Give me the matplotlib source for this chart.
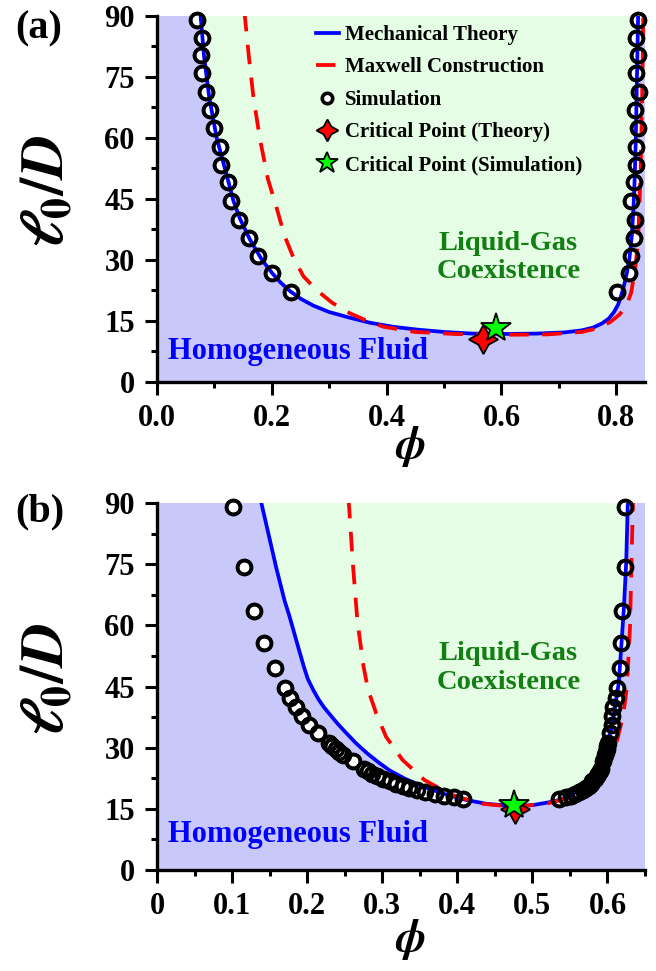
import numpy as np
import matplotlib
matplotlib.use("Agg")
import matplotlib.pyplot as plt
from matplotlib.ticker import MultipleLocator, FormatStrFormatter

plt.rcParams['font.family'] = ['Liberation Serif', 'DejaVu Serif']
plt.rcParams['font.weight'] = 'bold'
plt.rcParams['mathtext.fontset'] = 'stix'

# ---------------- panel (a) data ----------------
a_theory_phi = [0.075, 0.076, 0.082, 0.091, 0.104, 0.123, 0.133, 0.145, 0.162, 0.183, 0.201,
                0.215, 0.233, 0.250, 0.272, 0.300, 0.336, 0.370, 0.410, 0.452, 0.500, 0.550,
                0.600, 0.660, 0.710, 0.740, 0.760, 0.775, 0.787, 0.796, 0.803, 0.808, 0.813,
                0.818, 0.823, 0.827, 0.830, 0.832, 0.834, 0.836, 0.838, 0.838]
a_theory_l = [91, 90, 80, 70, 60, 50, 44.6, 40, 35, 30, 26.7,
              24.5, 22.2, 20.5, 18.8, 17.2, 15.8, 14.6, 13.6, 12.9, 12.3, 11.9,
              11.8, 11.9, 12.2, 12.7, 13.4, 14.4, 15.6, 17.2, 19.0, 21.0, 23.5,
              26.5, 30.5, 36, 43, 50, 60, 75, 90, 91]
a_maxwell_phi = [0.152, 0.153, 0.160, 0.168, 0.179, 0.193, 0.208, 0.222, 0.237, 0.255, 0.278,
                 0.305, 0.336, 0.365, 0.394, 0.45, 0.52, 0.60, 0.68, 0.74, 0.77, 0.79, 0.805,
                 0.817, 0.826, 0.833, 0.838, 0.842, 0.845, 0.847]
a_maxwell_l = [91, 90, 80, 70, 60, 50, 43, 36, 30.8, 26, 22.6,
               19.5, 16.9, 15.1, 13.6, 12.3, 11.8, 11.6, 11.7, 12.3, 13.3, 14.8, 16.5,
               18.5, 22, 28, 35, 50, 70, 91]
a_sim_l = [89.0, 84.5, 80.4, 75.9, 71.4, 66.9, 62.4, 57.9, 53.4, 49.3, 44.6,
           39.8, 35.3, 31.0, 26.7, 22.2]
a_sim_phi_left = [0.069, 0.079, 0.076, 0.079, 0.085, 0.092, 0.099, 0.110, 0.111, 0.124, 0.129,
                  0.143, 0.161, 0.176, 0.201, 0.233]
a_sim_phi_right = [0.837, 0.834, 0.837, 0.834, 0.839, 0.833, 0.837, 0.834, 0.834, 0.831, 0.825,
                   0.833, 0.830, 0.826, 0.822, 0.802]
a_crit_theory = (0.567, 10.5)
a_crit_sim = (0.590, 13.2)

# ---------------- panel (b) data ----------------
b_theory_phi = [0.137, 0.139, 0.149, 0.159, 0.170, 0.176, 0.181, 0.186, 0.191, 0.196, 0.201,
                0.208, 0.215, 0.222, 0.230, 0.240, 0.250, 0.265, 0.280, 0.295, 0.310, 0.330,
                0.354, 0.380, 0.411, 0.440, 0.475, 0.500, 0.522, 0.537, 0.548, 0.562, 0.578,
                0.593, 0.606, 0.615, 0.619, 0.622, 0.625, 0.627, 0.628]
b_theory_l = [91, 90, 82, 74, 66, 62.5, 59.3, 56, 52.8, 49.6, 46.8,
              44.2, 41.9, 40.0, 38.2, 36.0, 34.0, 31.1, 28.6, 26.4, 24.4, 22.4,
              20.5, 18.8, 17.2, 16.2, 15.7, 15.9, 16.6, 17.2, 18.0, 19.6, 22.5,
              27.0, 35.1, 45.8, 56.4, 64.6, 75.6, 89.5, 91]
b_maxwell_phi = [0.255, 0.256, 0.261, 0.267, 0.275, 0.281, 0.292, 0.305, 0.327, 0.356, 0.39,
                 0.43, 0.475, 0.52, 0.55, 0.575, 0.598, 0.613, 0.621, 0.626, 0.630, 0.632, 0.634]
b_maxwell_l = [91, 88.7, 74.8, 60.9, 50, 44.3, 38.4, 32.7, 27.0, 22.1, 18.6,
               16.3, 15.5, 16.3, 17.8, 20.5, 25, 31.9, 38, 45, 59.5, 75, 91]
b_sim_l = [88.9, 74.4, 63.5, 55.6, 49.5, 44.7, 42.3, 40.0, 37.8, 35.6, 33.5, 31.1,
           30.4, 29.7, 29.0, 28.3, 26.8, 24.8, 24.2, 23.6, 23.0, 22.4, 21.8, 21.2,
           20.6, 20.1, 19.6, 19.1, 18.6, 18.2, 17.8, 17.4]
b_sim_phi_left = [0.101, 0.116, 0.129, 0.143, 0.157, 0.170, 0.177, 0.185, 0.193, 0.203, 0.214, 0.229,
                  0.233, 0.238, 0.243, 0.248, 0.261, 0.276, 0.281, 0.287, 0.293, 0.301, 0.310, 0.318,
                  0.327, 0.336, 0.346, 0.357, 0.370, 0.382, 0.395, 0.407]
b_sim_phi_right = [0.624, 0.623, 0.619, 0.618, 0.617, 0.613, 0.611, 0.608, 0.606, 0.606, 0.604, 0.601,
                   0.600, 0.599, 0.598, 0.597, 0.594, 0.592, 0.590, 0.588, 0.586, 0.583, 0.580, 0.578,
                   0.575, 0.571, 0.567, 0.562, 0.557, 0.552, 0.545, 0.535]
b_crit_theory = (0.477, 15.0)
b_crit_sim = (0.475, 16.0)

yticks = [0, 15, 30, 45, 60, 75, 90]

PURPLE = '#c8c8fa'
GREEN_FILL = '#e4fde4'
TEXT_GREEN = '#127f12'


def panel(ax, th_phi, th_l, mx_phi, mx_l, sim_l, sim_left, sim_right, crit_t, crit_s,
          xmax, xmajor, xminor, xfmt, txt_xy, homo_xy, xlab_y):
    ax.set_facecolor(PURPLE)
    ax.fill(th_phi, th_l, color=GREEN_FILL, lw=0, zorder=0.5)

    sim_phi = list(sim_left) + list(sim_right)
    sim_ll = list(sim_l) + list(sim_l)
    ax.plot(sim_phi, sim_ll, 'o', ms=10, mfc='white', mec='black', mew=2.6,
            ls='none', zorder=2, clip_on=False, label='Simulation')
    ax.plot(th_phi, th_l, '-', color='#0000ff', lw=2.7, zorder=3, label='Mechanical Theory')
    ax.plot(mx_phi, mx_l, '--', color='#ff0000', lw=2.7, dashes=(5.2, 3.6), zorder=3,
            label='Maxwell Construction')
    ax.plot(sim_phi, sim_ll, 'o', ms=10, mfc='none', mec='black', mew=2.6,
            ls='none', zorder=4, clip_on=False)
    ax.plot(*crit_t, marker=(4, 1, 0), ms=21, mfc='#ff0000', mec='black', mew=1.3,
            ls='none', zorder=5, label='Critical Point (Theory)')
    ax.plot(*crit_s, marker='*', ms=22, mfc='#00ff00', mec='black', mew=1.3,
            ls='none', zorder=6, label='Critical Point (Simulation)')

    ax.set_xlim(0, xmax)
    ax.set_ylim(0, 90)
    ax.set_yticks(yticks)
    ax.yaxis.set_minor_locator(MultipleLocator(7.5))
    ax.xaxis.set_major_locator(MultipleLocator(xmajor))
    ax.xaxis.set_minor_locator(MultipleLocator(xminor))
    ax.xaxis.set_major_formatter(xfmt)
    for s in ['top', 'right']:
        ax.spines[s].set_visible(False)
    for s in ['left', 'bottom']:
        ax.spines[s].set_linewidth(2.4)
    ax.tick_params(which='major', direction='out', length=9, width=2.2,
                   labelsize=22, pad=7)
    ax.tick_params(which='minor', direction='out', length=4.5, width=2.2)
    for t in ax.get_xticklabels() + ax.get_yticklabels():
        t.set_fontweight('bold')

    ax.set_xlabel(r'$\phi$', fontsize=33, fontweight='normal')
    ax.xaxis.set_label_coords(0.518, xlab_y)
    ax.set_ylabel(r'$\ell_0/\mathbfit{D}$', fontsize=43, fontweight='normal')
    ax.yaxis.set_label_coords(-0.165, 0.52)

    ax.text(txt_xy[0], txt_xy[1], 'Liquid-Gas\nCoexistence', color=TEXT_GREEN,
            fontsize=20.5, fontweight='bold', ha='center', va='center',
            linespacing=1.2, zorder=7)
    ax.text(homo_xy[0], homo_xy[1], 'Homogeneous Fluid', color='#0000ff',
            fontsize=22, fontweight='bold', ha='left', va='center', zorder=7)


fig = plt.figure(figsize=(6.56, 9.71), dpi=100)
ax_a = fig.add_axes([157 / 656, 1 - 382 / 971, 488 / 656, 366 / 971])
ax_b = fig.add_axes([157 / 656, 1 - 870 / 971, 488 / 656, 367 / 971])

panel(ax_a, a_theory_phi, a_theory_l, a_maxwell_phi, a_maxwell_l, a_sim_l,
      a_sim_phi_left, a_sim_phi_right, a_crit_theory, a_crit_sim,
      0.85, 0.2, 0.1, FormatStrFormatter('%.1f'), (0.612, 30.6), (0.02, 7.5), -0.115)
panel(ax_b, b_theory_phi, b_theory_l, b_maxwell_phi, b_maxwell_l, b_sim_l,
      b_sim_phi_left, b_sim_phi_right, b_crit_theory, b_crit_sim,
      0.65, 0.1, 0.05, FormatStrFormatter('%g'), (0.468, 49.5), (0.015, 8.6), -0.128)

fig.text(15 / 656, 1 - 29 / 971, '(a)', fontsize=29, fontweight='bold', ha='left', va='center')
fig.text(15 / 656, 1 - 512 / 971, '(b)', fontsize=29, fontweight='bold', ha='left', va='center')

handles, labels = ax_a.get_legend_handles_labels()
order = ['Mechanical Theory', 'Maxwell Construction', 'Simulation',
         'Critical Point (Theory)', 'Critical Point (Simulation)']
hmap = dict(zip(labels, handles))
leg = ax_a.legend([hmap[k] for k in order], order, loc='upper left',
                  bbox_to_anchor=(316 / 656, 1 - 25 / 971), bbox_transform=fig.transFigure,
                  frameon=False, handlelength=1.1, handletextpad=0.3,
                  labelspacing=0.6, borderpad=0, borderaxespad=0, markerscale=0.75,
                  prop={'weight': 'bold', 'size': 15})

fig.savefig('out.png', dpi=100)
